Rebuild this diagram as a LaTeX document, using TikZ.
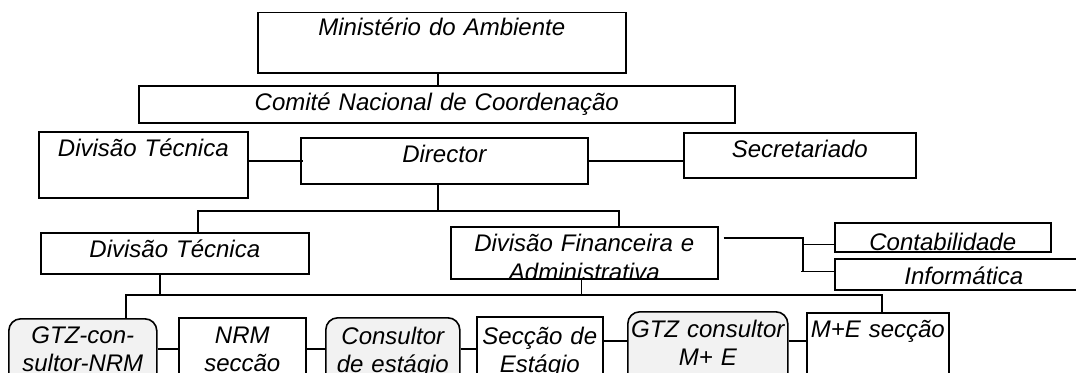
\documentclass[tikz,border=0pt]{standalone}
\usepackage{fontspec}
\setmainfont{Liberation Sans}
\usepackage{tikz}

\begin{document}
\begin{tikzpicture}[x = 1bp, y = -1bp,
  orgbox/.style = {draw, line width = 1.6bp, anchor = north west, inner sep = 0pt, align = center,
    font = \itshape\fontsize{24bp}{27.5bp}\selectfont},
  softbox/.style = {orgbox, rounded corners = 12bp, fill = black!5},
  link/.style = {line width = 1.6bp}]
\useasboundingbox (0,0) rectangle (1076,372);

\node[orgbox, text width = 368bp, text height = 23.5bp, text depth = 37bp] (min) at (257,11.5) {Ministério do Ambiente};
\node[orgbox, text width = 596bp, text height = 25bp, text depth = 12bp] (com) at (138,85) {Comité Nacional de Coordenação};
\node[orgbox, text width = 209bp, text height = 25bp, text depth = 41bp] (dt1) at (38,131) {Divisão Técnica};
\node[orgbox, text width = 287bp, text height = 25bp, text depth = 21bp] (dir) at (300,137) {Director};
\node[orgbox, text width = 232bp, text height = 25bp, text depth = 20bp] (sec) at (683,132) {Secretariado};
\node[orgbox, text width = 268bp, text height = 25bp, text depth = 16bp] (dt2) at (40,232) {Divisão Técnica};
\node[orgbox, text width = 267bp, text height = 25bp, text depth = 27bp,
  path picture = {\node[draw = none, fill = none, anchor = base, inner sep = 0pt, text width = 267bp, align = center,
    font = \itshape\fontsize{24bp}{29bp}\selectfont] at ([yshift = -25bp]path picture bounding box.north)
    {Divisão Financeira e\\Administrativa};}] (fin) at (450,226) {};
\node[orgbox, text width = 216bp, text height = 28bp, text depth = 1bp] (con) at (834,222) {Contabilidade};
\node[orgbox, text width = 258bp, text height = 26bp, text depth = 5bp] (inf) at (834,258) {Informática};

\node[softbox, text width = 148bp, text height = 25bp, text depth = 57bp] (gtz) at (8,318) {GTZ-con-\\sultor-NRM};
\node[orgbox, text width = 127bp, text height = 26bp, text depth = 57bp] (nrm) at (178,317) {NRM\\seccão};
\node[softbox, text width = 134bp, text height = 27bp, text depth = 56bp] (cst) at (325,317) {Consultor\\de estágio};
\node[orgbox, text width = 126bp, text height = 28bp, text depth = 56bp] (sce) at (476,316) {Secção de\\Estágio};
\node[softbox, text width = 160bp, text height = 26bp, text depth = 63bp] (gmc) at (627,311) {GTZ consultor\\M+ E};
\node[orgbox, text width = 142bp, text height = 25bp, text depth = 63bp] (mes) at (806,312) {M+E secção};

\coordinate (hub) at (438,211);
\coordinate (busL) at (198,211);
\coordinate (busR) at (619,211);
\coordinate (fork) at (803,238);
\coordinate (lowL) at (126,295);
\coordinate (lowR) at (882,295);
\coordinate (rowA) at (0,349);
\coordinate (rowB) at (0,341);

\draw[link] (min.south -| hub) -- (com.north -| hub);
\draw[link] (dir.south -| hub) -- (hub);
\draw[link] (dt1.east |- dir.west) -- ([xshift = 3bp]dir.west);
\draw[link] (dir.east) -- (sec.west |- dir.east);
\draw[link] (dt2.north -| busL) -- (busL) -- (busR) -- (fin.north -| busR);
\draw[link] ([xshift = 5bp]fin.east |- fork) -- (fork) -- ([yshift = 3bp]inf.west -| fork);
\draw[link] ([yshift = -7bp]con.west) -- ([yshift = -7bp]con.west -| fork);
\draw[link] ([yshift = 3bp]inf.west) -- ([xshift = -2bp, yshift = 3bp]inf.west -| fork);

\draw[link] (gtz.north -| lowL) -- (lowL) -- (lowR) -- (mes.north -| lowR);
\draw[link] ([xshift = -15bp]dt2.south) -- ([xshift = -15bp]dt2.south |- lowL);
\draw[link] ([xshift = -3bp]fin.south) -- ([xshift = -3bp]fin.south |- lowL);
\draw[link] (gtz.east |- rowA) -- (nrm.west |- rowA);
\draw[link] (nrm.east |- rowA) -- (cst.west |- rowA);
\draw[link] (cst.east |- rowA) -- (sce.west |- rowA);
\draw[link] (sce.east |- rowB) -- (gmc.west |- rowB);
\draw[link] (gmc.east |- rowB) -- (mes.west |- rowB);
\end{tikzpicture}
\end{document}
